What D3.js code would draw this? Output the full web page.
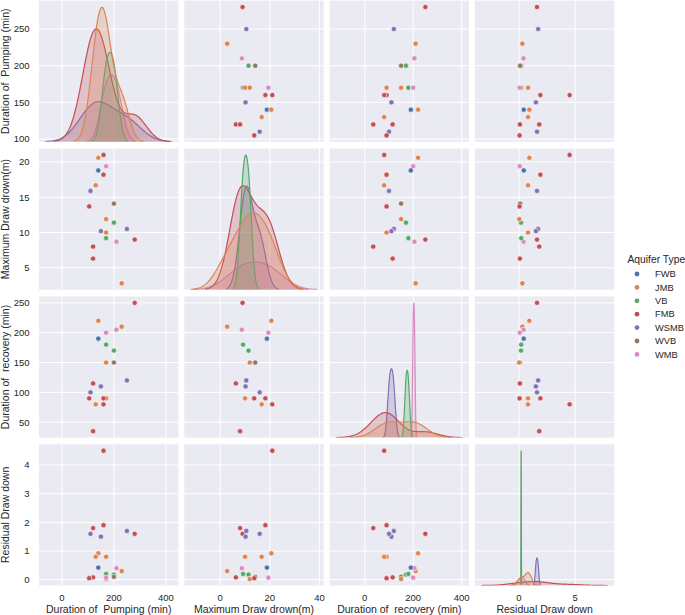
<!DOCTYPE html>
<html><head><meta charset="utf-8">
<script src="https://cdn.jsdelivr.net/npm/d3@7"></script>
<style>
body{margin:0;background:#fff;}
text{font-family:Arial,"Liberation Sans",sans-serif;fill:#262626;white-space:pre;}
</style>
</head><body>
<svg id="chart" width="685" height="615"></svg>
<script>
// ---------- data ----------
const variables = ["Duration of  Pumping (min)", "Maximum Draw drown(m)", "Duration of  recovery (min)", "Residual Draw down"];
const aquiferTypes = ["FWB", "JMB", "VB", "FMB", "WSMB", "WVB", "WMB"];
const palette = ["#4C72B0", "#DD8452", "#55A868", "#C44E52", "#8172B3", "#937860", "#DA8BC3"];
const aquifer = ["FMB","WSMB","JMB","WMB","VB","WVB","VB","JMB","JMB","WMB","FMB","FMB","WSMB","FWB","JMB","JMB","FMB","FMB","WSMB","FMB"];
const pumping = [280,250,230,210,200,200,170,170,170,170,160,160,150,140,140,130,120,120,110,105];
const maxDrawdown = [9.0,10.5,2.8,8.7,11.4,14.1,9.2,10.0,11.9,19.4,18.2,21.0,10.2,18.8,20.6,16.7,6.3,8.0,15.9,13.7];
const recovery = [250,120,210,205,170,150,180,90,150,200,90,80,110,190,220,80,115,35,100,90];
const residual = [1.6,1.7,0.3,0.4,0.18,0.1,0.2,0.8,0.02,0.07,1.9,4.5,1.5,0.42,0.92,0.8,0.08,1.8,1.6,0.05];
const xTicks = [[0,200,400],[0,20,40],[0,200,400],[0,5]];
const yTicks = [[100,150,200,250],[5,10,15,20],[50,100,150,200,250],[0,1,2,3,4]];

// ---------- layout ----------
const svg = d3.select("#chart");
const colX = j => 39 + 145.3 * j, W = 139.4;
const rowY = i => 0.6 + 147.9 * i, H = 141.2;
const cols = [pumping, maxDrawdown, recovery, residual];
const N = aquifer.length;
const color = d3.scaleOrdinal().domain(aquiferTypes).range(palette);

function kdeGroup(vals) {
  const m = vals.length;
  if (m < 2) return null;
  const sd = d3.deviation(vals);
  if (!sd) return null;
  const bw = sd * Math.pow(m, -0.2);
  const lo = d3.min(vals) - 3 * bw, hi = d3.max(vals) + 3 * bw;
  const pts = d3.range(200).map(k => {
    const x = lo + (hi - lo) * k / 199;
    let s = 0;
    for (const v of vals) s += Math.exp(-0.5 * ((x - v) / bw) ** 2);
    return [x, s / (Math.sqrt(2 * Math.PI) * bw) / N];
  });
  return {lo, hi, pts};
}

// KDEs per variable per group
const kdes = cols.map(vals => aquiferTypes.map(t => {
  const g = vals.filter((v, k) => aquifer[k] === t);
  return {type: t, kde: kdeGroup(g)};
}));

const pad = ([a, b]) => { const r = b - a; return [a - 0.05 * r, b + 0.05 * r]; };
const xDomains = cols.map((vals, j) => {
  let lo = d3.min(vals), hi = d3.max(vals);
  kdes[j].forEach(g => { if (g.kde) { lo = Math.min(lo, g.kde.lo); hi = Math.max(hi, g.kde.hi); } });
  return pad([lo, hi]);
});
const yDomains = cols.map(vals => pad(d3.extent(vals)));

const xScales = xDomains.map((d, j) => d3.scaleLinear().domain(d).range([colX(j), colX(j) + W]));
const yScales = yDomains.map((d, i) => d3.scaleLinear().domain(d).range([rowY(i) + H, rowY(i)]));

const defs = svg.append("defs");

for (let i = 0; i < 4; i++) {
  for (let j = 0; j < 4; j++) {
    const x = xScales[j], y = yScales[i];
    const g = svg.append("g");
    const cid = `clip${i}${j}`;
    defs.append("clipPath").attr("id", cid).append("rect")
      .attr("x", colX(j)).attr("y", rowY(i)).attr("width", W).attr("height", H);
    g.append("rect").attr("x", colX(j)).attr("y", rowY(i)).attr("width", W).attr("height", H).attr("fill", "#EAEAF2");
    // grid
    g.selectAll(null).data(xTicks[j]).join("line")
      .attr("x1", d => x(d)).attr("x2", d => x(d)).attr("y1", rowY(i)).attr("y2", rowY(i) + H)
      .attr("stroke", "#fff").attr("stroke-width", 1);
    g.selectAll(null).data(yTicks[i]).join("line")
      .attr("y1", d => y(d)).attr("y2", d => y(d)).attr("x1", colX(j)).attr("x2", colX(j) + W)
      .attr("stroke", "#fff").attr("stroke-width", 1);
    const content = g.append("g").attr("clip-path", `url(#${cid})`);
    if (i === j) {
      const groups = kdes[j].filter(d => d.kde);
      const maxD = d3.max(groups, d => d3.max(d.kde.pts, p => p[1]));
      const yd = d3.scaleLinear().domain([0, maxD * 1.05]).range([rowY(i) + H, rowY(i)]);
      const area = d3.area().x(p => x(p[0])).y0(yd(0)).y1(p => yd(p[1]));
      const line = d3.line().x(p => x(p[0])).y(p => yd(p[1]));
      groups.slice().reverse().forEach(d => {
        const c = color(d.type);
        content.append("path").attr("d", area(d.kde.pts)).attr("fill", c).attr("fill-opacity", 0.25).attr("stroke", "none");
        content.append("path").attr("d", line(d.kde.pts)).attr("fill", "none").attr("stroke", c).attr("stroke-width", 1.2);
      });
    } else {
      content.selectAll("circle").data(d3.range(N)).join("circle")
        .attr("cx", k => x(cols[j][k])).attr("cy", k => y(cols[i][k])).attr("r", 2.6)
        .attr("fill", k => color(aquifer[k])).attr("stroke", "#fff").attr("stroke-width", 0.6);
    }
  }
}

// y tick labels + labels
for (let i = 0; i < 4; i++) {
  const y = yScales[i];
  svg.append("g").selectAll("text").data(yTicks[i]).join("text")
    .attr("x", colX(0) - 9.5).attr("y", d => y(d)).attr("dy", "0.35em")
    .attr("text-anchor", "end").attr("font-size", 9.5).text(d => d);
  svg.append("text").attr("transform", `translate(8.5,${rowY(i) + H / 2}) rotate(-90)`)
    .attr("text-anchor", "middle").attr("font-size", 10.5).text(variables[i]);
}
// x tick labels + labels
for (let j = 0; j < 4; j++) {
  const x = xScales[j];
  svg.append("g").selectAll("text").data(xTicks[j]).join("text")
    .attr("x", d => x(d)).attr("y", rowY(3) + H + 15)
    .attr("text-anchor", "middle").attr("font-size", 9.5).text(d => d);
  svg.append("text").attr("x", colX(j) + W / 2).attr("y", 612.5)
    .attr("text-anchor", "middle").attr("font-size", 10.5).text(variables[j]);
}

// legend
const lg = svg.append("g");
lg.append("text").attr("x", 627.5).attr("y", 263).attr("font-size", 10.3).text("Aquifer Type");
aquiferTypes.forEach((t, k) => {
  const yy = 274 + 13.4 * k;
  lg.append("circle").attr("cx", 637).attr("cy", yy).attr("r", 2.4).attr("fill", color(t));
  lg.append("text").attr("x", 655).attr("y", yy).attr("dy", "0.35em").attr("font-size", 9.3).text(t);
});
</script>
</body></html>
